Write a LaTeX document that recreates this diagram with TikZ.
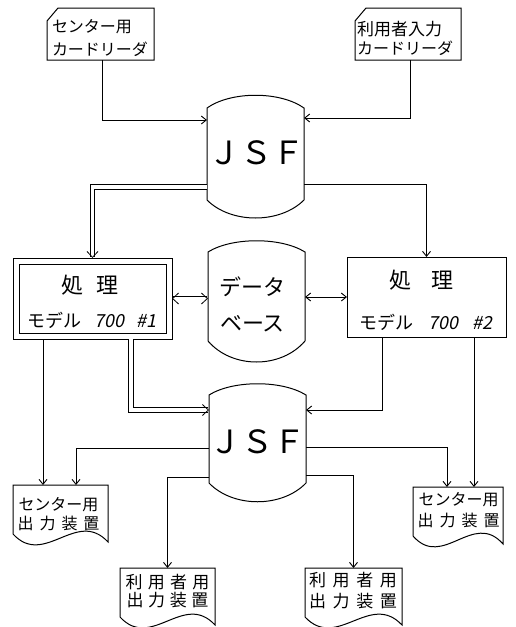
\documentclass[tikz,border=0pt]{standalone}
\usepackage{fontspec}
\setmainfont{Noto Sans CJK JP}
\newfontfamily\jpit[FakeSlant=0.2]{Noto Sans CJK JP}
\usetikzlibrary{arrows.meta,calc}
\tikzset{
  shp/.style={line width=1pt},
  conn/.style={line width=0.9pt,-{Straight Barb[length=5pt,width=8pt]}},
  bconn/.style={line width=0.9pt,{Straight Barb[length=5pt,width=8pt]}-{Straight Barb[length=5pt,width=8pt]}},
  dconn/.style={line width=0.8pt,double distance=3.5pt,-{Straight Barb[length=6pt,width=11pt]}},
  dbconn/.style={line width=0.8pt,double distance=4pt,{Straight Barb[length=6pt,width=11pt]}-{Straight Barb[length=6pt,width=11pt]}},
  hold/.style={inner sep=0pt,outer sep=0pt}
}
\newcommand\cardshape[1]{\draw[shp] ([yshift=-13pt]#1.north west) -- ([xshift=11pt]#1.north west) -- (#1.north east) -- (#1.south east) -- (#1.south west) -- cycle;}
\newcommand\barrel[3]{\draw[shp] (#1.north west) -- (#1.south west) .. controls ([xshift=24pt,yshift=-#3]#1.south west) and ([xshift=-24pt,yshift=-#3]#1.south east) .. (#1.south east) -- (#1.north east) .. controls ([xshift=-24pt,yshift=#2]#1.north east) and ([xshift=24pt,yshift=#2]#1.north west) .. (#1.north west) -- cycle;}
\newcommand\docshape[1]{\draw[shp] (#1.south west) -- (#1.north west) -- (#1.north east) -- ([yshift=-8pt]#1.south east) .. controls ($(#1.south west)!0.67!(#1.south east)+(0pt,26pt)$) and ($(#1.south west)!0.33!(#1.south east)+(0pt,-34pt)$) .. (#1.south west) -- cycle;}
\begin{document}
\begin{tikzpicture}[x=1pt,y=-1pt]
\useasboundingbox (0,0) rectangle (515,627);
% card readers
\node[hold,minimum width=107pt,minimum height=52pt] (cr1) at (100.5,34) {};
\cardshape{cr1}
\node[hold,anchor=west,align=left,font=\fontsize{16}{23}\selectfont] (cr1t) at (52,38.5) {センター用\\カードリーダ};
\node[hold,minimum width=106pt,minimum height=52pt] (cr2) at (408,34) {};
\cardshape{cr2}
\node[hold,anchor=west,align=left] (cr2t) at (357,38) {{\fontsize{17}{17}\selectfont 利用者入力}\\[3pt]{\fontsize{16}{16}\selectfont カードリーダ}};
% JSF 1
\node[hold,minimum width=97pt,minimum height=92pt] (jsf1) at (255.5,154) {};
\barrel{jsf1}{17pt}{24pt}
\node[font=\fontsize{32}{32}\selectfont] (j1t) at (256,153) {ＪＳＦ};
% processing boxes
\node[hold,draw,shp,minimum width=159pt,minimum height=81pt] (box1) at (92.5,298.5) {};
\draw[shp] ([shift={(6pt,-6pt)}]box1.north west) rectangle ([shift={(-6pt,6pt)}]box1.south east);
\node[font=\fontsize{22}{22}\selectfont] (b1a) at (90,285) {処\hspace{14pt}理};
\node[font=\fontsize{18}{18}\selectfont] (b1b) at (92,320) {モデル\hspace{13pt}{\jpit 700}\hspace{13pt}{\jpit\#1}};
\node[hold,draw,shp,minimum width=159pt,minimum height=80pt] (box2) at (426.5,297) {};
\node[font=\fontsize{22}{22}\selectfont] (b2a) at (421,280) {処\hspace{20pt}理};
\node[font=\fontsize{18}{18}\selectfont] (b2b) at (426,322) {モデル\hspace{15pt}{\jpit 700}\hspace{15pt}{\jpit\#2}};
% database
\node[hold,minimum width=97pt,minimum height=89pt] (db) at (256.5,296.5) {};
\barrel{db}{15pt}{28pt}
\node[align=center,font=\fontsize{22}{36}\selectfont] (dbt) at (252.5,304) {データ\\ベース};
% JSF 2
\node[hold,minimum width=97pt,minimum height=88pt] (jsf2) at (257.5,439) {};
\barrel{jsf2}{15pt}{25pt}
\node[font=\fontsize{32}{32}\selectfont] (j2t) at (257,442) {ＪＳＦ};
% output devices
\node[hold,minimum width=95pt,minimum height=49pt] (dev1) at (60.5,509.5) {};
\docshape{dev1}
\node[align=center,font=\fontsize{16}{19}\selectfont] (d1t) at (58.5,514.5) {\makebox[80pt]{センター用}\\\makebox[82pt]{出\hfill 力\hfill 装\hfill 置}};
\node[hold,minimum width=95pt,minimum height=49pt] (dev2) at (167.5,592.5) {};
\docshape{dev2}
\node[align=center,font=\fontsize{17}{18}\selectfont] (d2t) at (167.5,591) {\makebox[84pt]{利\hfill 用\hfill 者\hfill 用}\\\makebox[82pt]{出\hfill 力\hfill 装\hfill 置}};
\node[hold,minimum width=90pt,minimum height=49pt] (dev3) at (458,511.5) {};
\docshape{dev3}
\node[align=center,font=\fontsize{16}{21}\selectfont] (d3t) at (458.5,510.5) {\makebox[80pt]{センター用}\\\makebox[82pt]{出\hfill 力\hfill 装\hfill 置}};
\node[hold,minimum width=97pt,minimum height=49pt] (dev4) at (353.5,592.5) {};
\docshape{dev4}
\node[align=center,font=\fontsize{17}{21}\selectfont] (d4t) at (353,590.5) {\makebox[88pt]{利\hfill 用\hfill 者\hfill 用}\\\makebox[88pt]{出\hfill 力\hfill 装\hfill 置}};
% helper coordinates
\coordinate (d1a) at ([xshift=-17.5pt]dev1.north);
\coordinate (d1b) at ([xshift=15.5pt]dev1.north);
\coordinate (d3a) at ([xshift=16pt]dev3.north);
\coordinate (d3b) at ([xshift=-11pt]dev3.north);
\coordinate (b1o) at ([xshift=38.5pt]box1.south);
\coordinate (b2o) at ([xshift=-44.5pt]box2.south);
% connectors
\draw[conn] ([xshift=1.5pt]cr1.south) |- ([yshift=34pt]jsf1.west);
\draw[conn] ([xshift=2pt]cr2.south) |- ([yshift=36pt]jsf1.east);
\draw[dconn] ([yshift=-33pt]jsf1.west) -| (box1.north);
\draw[conn] ([yshift=-30pt]jsf1.east) -| (box2.north);
\draw[dbconn] (box1.east) -- (box1.east -| db.west);
\draw[bconn] (db.east |- box2.west) -- (box2.west);
\draw[conn] (d1a |- box1.south) -- (d1a);
\draw[dconn] (b1o) |- ([yshift=29pt]jsf2.west);
\draw[conn] (b2o) |- ([yshift=29pt]jsf2.east);
\draw[conn] (d3a |- box2.south) -- (d3a);
\draw[conn] ([yshift=-9pt]jsf2.west) -| (d1b);
\draw[conn] ([yshift=-38pt]jsf2.west) -| (dev2.north);
\draw[conn] ([yshift=-8pt]jsf2.east) -| (d3b);
\draw[conn] ([yshift=-36pt]jsf2.east) -| (dev4.north);
\end{tikzpicture}
\end{document}
